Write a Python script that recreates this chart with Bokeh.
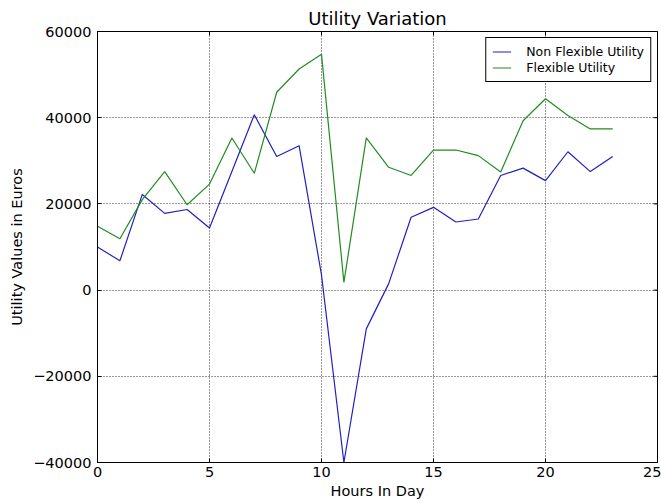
import math
from bokeh.plotting import figure
from bokeh.models import Range1d, FixedTicker, Legend, LegendItem
from bokeh.embed import file_html
from bokeh.resources import INLINE

hours = list(range(24))
non_flexible = [10000, 6800, 22200, 17800, 18700, 14400, 27500, 40700, 31000, 33500,
                3500, -40000, -9000, 1500, 16900, 19200, 15800, 16500, 26600, 28300,
                25400, 32100, 27500, 31000]
flexible = [14800, 11900, 21000, 27500, 19800, 24600, 35300, 27100, 45900, 51300,
            54700, 1800, 35300, 28500, 26600, 32500, 32500, 31200, 27400, 39300,
            44400, 40500, 37400, 37400]
x_ticks = [0, 5, 10, 15, 20, 25]
y_ticks = [-40000, -20000, 0, 20000, 40000, 60000]
x_lim = (0, 25)
y_lim = (-40000, 60000)

FONT = "DejaVu Sans"

p = figure(width=661, height=503, output_backend="svg", toolbar_location=None,
           x_range=Range1d(*x_lim), y_range=Range1d(*y_lim),
           min_border_left=97, min_border_right=4, min_border_top=31, min_border_bottom=41)

p.title.text = "Utility Variation"
p.title.align = "center"
p.title.text_font = FONT
p.title.text_font_size = "18px"
p.title.text_font_style = "normal"
p.title.text_color = "black"
p.title.standoff = 5

p.outline_line_color = "black"
p.outline_line_width = 1
p.outline_line_alpha = 1
p.background_fill_color = "white"
p.border_fill_color = "white"

for ax in (p.xaxis[0], p.yaxis[0]):
    ax.major_label_text_font = FONT
    ax.major_label_text_font_size = "14.5px"
    ax.major_label_text_color = "black"
    ax.axis_label_text_font = FONT
    ax.axis_label_text_font_size = "14.5px"
    ax.axis_label_text_font_style = "normal"
    ax.axis_label_text_color = "black"
    ax.major_tick_in = 4
    ax.major_tick_out = 0
    ax.minor_tick_in = 0
    ax.minor_tick_out = 0
    ax.axis_line_color = "black"
    ax.major_tick_line_color = "black"

p.xaxis.ticker = FixedTicker(ticks=x_ticks)
p.yaxis.ticker = FixedTicker(ticks=y_ticks)
p.yaxis.major_label_overrides = {t: str(t).replace("-", "\u2212") for t in y_ticks}
p.xaxis.major_label_standoff = 4
p.yaxis.major_label_standoff = 6
p.xaxis.axis_label = "Hours In Day"
p.yaxis.axis_label = "Utility Values in Euros"
p.xaxis.axis_label_standoff = 3
p.yaxis.axis_label_standoff = 5

p.xgrid.ticker = FixedTicker(ticks=x_ticks)
p.ygrid.ticker = FixedTicker(ticks=y_ticks)
p.grid.grid_line_color = "black"
p.grid.grid_line_alpha = 0.8
p.grid.grid_line_dash = "1 2"
p.grid.grid_line_width = 1

# inward ticks on the top and right edges (matplotlib classic style)
p.scatter(x_ticks, [y_lim[1]] * len(x_ticks), marker="dash", angle=math.pi / 2,
          size=8, line_color="black", line_width=1)
p.scatter([x_lim[1]] * len(y_ticks), y_ticks, marker="dash",
          size=8, line_color="black", line_width=1)

r1 = p.line(hours, non_flexible, line_color="#2020c0", line_width=1.2)
r2 = p.line(hours, flexible, line_color="#228b22", line_width=1.2)

legend = Legend(items=[LegendItem(label="Non Flexible Utility", renderers=[r1]),
                       LegendItem(label="Flexible Utility", renderers=[r2])],
                location="top_right")
legend.label_text_font = FONT
legend.label_text_font_size = "12.5px"
legend.label_text_color = "black"
legend.glyph_width = 19
legend.glyph_height = 15
legend.label_height = 15
legend.label_standoff = 15
legend.spacing = 1
legend.padding = 6
legend.margin = 6
legend.border_line_color = "black"
legend.border_line_width = 1
legend.border_line_alpha = 1
legend.background_fill_alpha = 1
p.add_layout(legend)

open("out.html", "w").write(file_html(p, INLINE))
